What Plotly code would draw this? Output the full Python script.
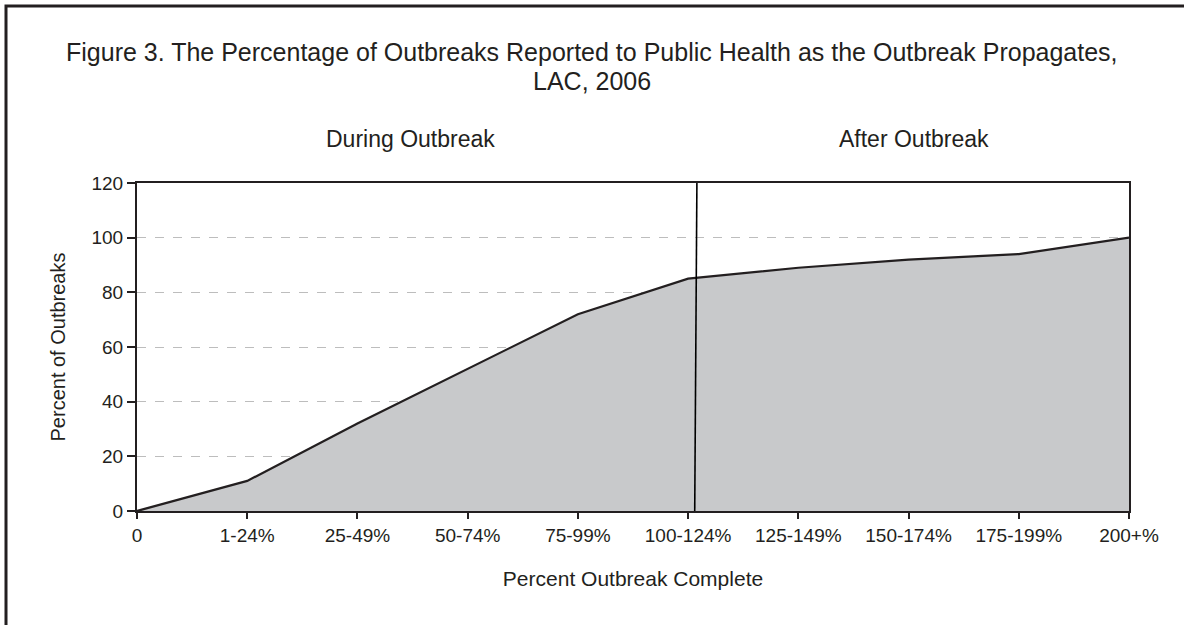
import plotly.graph_objects as go

categories = ["0", "1-24%", "25-49%", "50-74%", "75-99%", "100-124%",
              "125-149%", "150-174%", "175-199%", "200+%"]
percent_outbreaks = [0, 11, 32, 52, 72, 85, 89, 92, 94, 100]
y_ticks = [0, 20, 40, 60, 80, 100, 120]
divider_position = 5.07  # between 100-124% and 125-149%, near 100-124%

title_line1 = "Figure 3. The Percentage of Outbreaks Reported to Public Health as the Outbreak Propagates,"
title_line2 = "LAC, 2006"
phase_labels = ["During Outbreak", "After Outbreak"]

INK = "#231f20"
FONT = "Liberation Sans, Arial, sans-serif"

W, H = 1184, 625
L, R, T, B = 137, 55, 183, 114
pw, ph = W - L - R, H - T - B

def px_x(x):
    return (x - L) / pw

def px_y(y):
    return (H - B - y) / ph

xpos = list(range(len(categories)))

fig = go.Figure()
fig.add_trace(go.Scatter(
    x=xpos, y=percent_outbreaks, mode="lines",
    line=dict(color=INK, width=2.2),
    fill="tozeroy", fillcolor="#c8c9cb",
    hoverinfo="skip", showlegend=False,
))

fig.update_layout(
    width=W, height=H,
    margin=dict(l=L, r=R, t=T, b=B),
    paper_bgcolor="white", plot_bgcolor="white",
    font=dict(family=FONT, color=INK, size=19),
    xaxis=dict(
        range=[0, len(categories) - 1], tickvals=xpos, ticktext=categories,
        showline=True, linecolor=INK, linewidth=2.2, mirror=True,
        ticks="outside", ticklen=6, tickwidth=2, tickcolor=INK,
        showgrid=False, zeroline=False,
        tickfont=dict(size=19, color=INK),
        title=dict(text="Percent Outbreak Complete", standoff=26,
                   font=dict(size=21, color=INK)),
    ),
    yaxis=dict(
        range=[0, 120], tickvals=y_ticks,
        showline=True, linecolor=INK, linewidth=2.2, mirror=True,
        ticks="outside", ticklen=8, tickwidth=2, tickcolor=INK,
        showgrid=True, gridcolor="#bdbdbd", griddash="dash", gridwidth=1,
        zeroline=False,
        tickfont=dict(size=19, color=INK),
        title=dict(text="Percent of Outbreaks", standoff=20,
                   font=dict(size=20, color=INK)),
    ),
    shapes=[
        dict(type="line", xref="x", yref="y",
             x0=divider_position + 0.01, x1=divider_position - 0.01,
             y0=121.6, y1=0, line=dict(color="black", width=1.6)),
        dict(type="rect", xref="paper", yref="paper",
             x0=px_x(6), x1=px_x(1200), y0=px_y(700), y1=px_y(6),
             line=dict(color=INK, width=3), fillcolor="rgba(0,0,0,0)",
             layer="above"),
    ],
    annotations=[
        dict(text=title_line1, xref="paper", yref="paper",
             x=px_x(W / 2), y=px_y(52), showarrow=False,
             xanchor="center", yanchor="middle",
             font=dict(size=25, color=INK)),
        dict(text=title_line2, xref="paper", yref="paper",
             x=px_x(W / 2), y=px_y(81), showarrow=False,
             xanchor="center", yanchor="middle",
             font=dict(size=25, color=INK)),
        dict(text=phase_labels[0], xref="paper", yref="paper",
             x=px_x(410), y=px_y(139), showarrow=False,
             xanchor="center", yanchor="middle",
             font=dict(size=23, color=INK)),
        dict(text=phase_labels[1], xref="paper", yref="paper",
             x=px_x(914), y=px_y(139), showarrow=False,
             xanchor="center", yanchor="middle",
             font=dict(size=23, color=INK)),
    ],
)

fig.write_html("out.html", config={"displayModeBar": False},
               post_script="document.body.style.margin='0';")
